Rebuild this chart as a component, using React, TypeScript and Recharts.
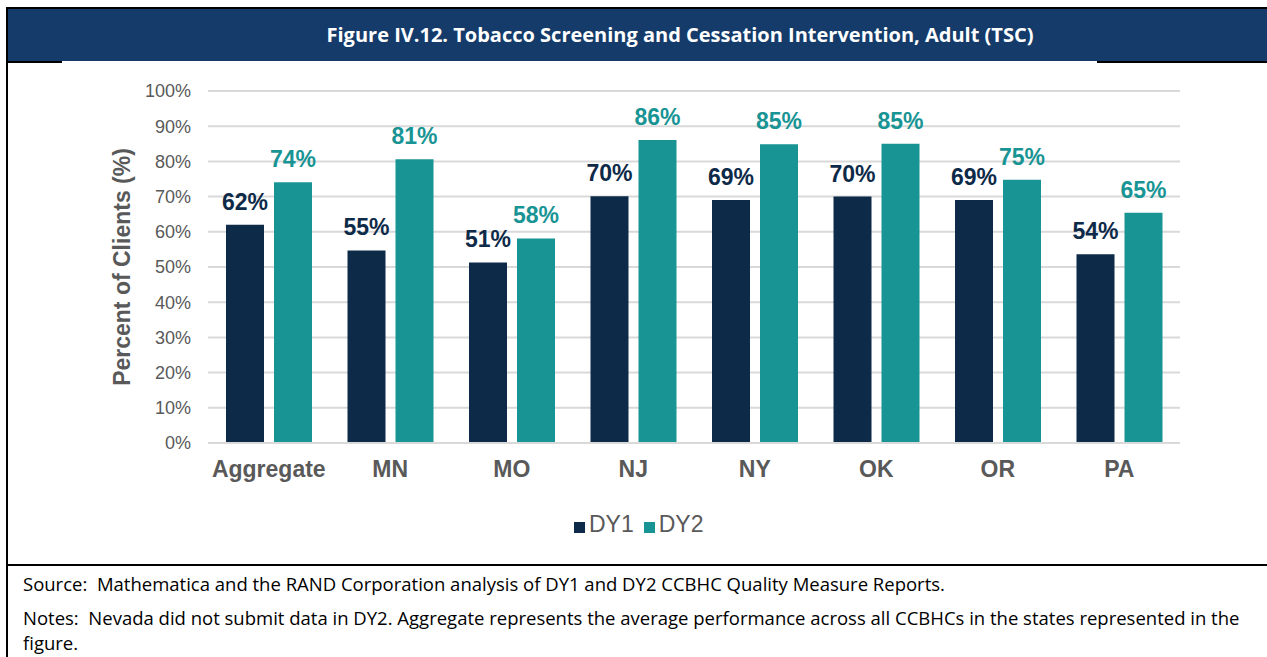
import { BarChart, Bar, XAxis, YAxis, CartesianGrid, Legend, LabelList } from "recharts";

const categories = ["Aggregate", "MN", "MO", "NJ", "NY", "OK", "OR", "PA"];
const dy1Values = [62, 54.7, 51.3, 70.1, 69, 70, 69, 53.6];
const dy2Values = [74.1, 80.6, 58.1, 86.1, 84.9, 85, 74.8, 65.4];
const yTicks = [0, 10, 20, 30, 40, 50, 60, 70, 80, 90, 100];

const data = categories.map((name, i) => ({ name, DY1: dy1Values[i], DY2: dy2Values[i] }));

const NAVY = "#0D2A48";
const TEAL = "#199494";
const GRAY = "#595959";
const ARIAL = "'Liberation Sans', Arial, sans-serif";
const BODY = "'Open Sans', 'Noto Sans', sans-serif";

const pct = (v: any) => `${Math.round(Number(v))}%`;

const noteStyle = {
  position: "absolute" as const,
  left: 23,
  whiteSpace: "nowrap" as const,
  fontFamily: BODY,
  fontSize: 18.5,
  lineHeight: "18px",
  color: "#000",
};

export default function App() {
  return (
    <div style={{ position: "absolute", left: 0, top: 0, width: 1267, height: 657, overflow: "hidden", background: "#fff" }}>
      {/* outer frame */}
      <div style={{ position: "absolute", left: 6, top: 7, width: 1400, height: 700, border: "2px solid #000" }} />
      {/* title bar */}
      <div style={{ position: "absolute", left: 8, top: 9, width: 1400, height: 52, background: "#143B69" }} />
      <div
        style={{
          position: "absolute", left: 0, top: 9, width: 1360, height: 52, lineHeight: "52px",
          textAlign: "center", color: "#fff", fontFamily: BODY, fontWeight: 700, fontSize: 20,
        }}
      >
        Figure IV.12. Tobacco Screening and Cessation Intervention, Adult (TSC)
      </div>
      <div style={{ position: "absolute", left: 7, top: 61, width: 55, height: 2, background: "#000" }} />
      <div style={{ position: "absolute", left: 1097, top: 61, width: 200, height: 2, background: "#000" }} />

      <div style={{ position: "absolute", left: 0, top: 62 }}>
        <BarChart
          width={1267}
          height={500}
          data={data}
          margin={{ top: 29, right: 87, left: 0, bottom: 32 }}
          barGap={10}
          barCategoryGap={18}
        >
          <CartesianGrid vertical={false} stroke="#D9D9D9" strokeWidth={2} />
          <XAxis
            dataKey="name"
            axisLine={{ stroke: "#D9D9D9", strokeWidth: 2 }}
            tickLine={false}
            tickMargin={12}
            height={60}
            tick={{ fontSize: 23, fontWeight: 700, fill: GRAY, fontFamily: ARIAL }}
          />
          <YAxis
            width={208}
            domain={[0, 100]}
            ticks={yTicks}
            tickFormatter={(v) => `${v}%`}
            axisLine={false}
            tickLine={false}
            tickMargin={11}
            tick={{ fontSize: 18, fill: GRAY, fontFamily: ARIAL }}
            label={{
              value: "Percent of Clients (%)",
              angle: -90,
              position: "center",
              dx: 18,
              style: { fontSize: 23, fontWeight: 700, fill: GRAY, fontFamily: ARIAL },
            }}
          />
          <Legend
            verticalAlign="bottom"
            iconType="square"
            iconSize={11}
            wrapperStyle={{ left: 574, bottom: 24, width: "auto", fontFamily: ARIAL }}
            formatter={(value) => <span style={{ color: GRAY, fontSize: 23 }}>{value}</span>}
          />
          <Bar dataKey="DY1" fill={NAVY} isAnimationActive={false}>
            <LabelList
              dataKey="DY1"
              position="top"
              offset={15}
              formatter={pct}
              style={{ fill: NAVY, fontSize: 23, fontWeight: 700, fontFamily: ARIAL }}
            />
          </Bar>
          <Bar dataKey="DY2" fill={TEAL} isAnimationActive={false}>
            <LabelList
              dataKey="DY2"
              position="top"
              offset={15}
              formatter={pct}
              style={{ fill: TEAL, fontSize: 23, fontWeight: 700, fontFamily: ARIAL }}
            />
          </Bar>
        </BarChart>
      </div>

      <div style={{ position: "absolute", left: 7, top: 564, width: 1300, height: 2, background: "#000" }} />
      <div style={{ ...noteStyle, top: 575 }}>
        Source:&nbsp; Mathematica and the RAND Corporation analysis of DY1 and DY2 CCBHC Quality Measure Reports.
      </div>
      <div style={{ ...noteStyle, top: 609 }}>
        Notes:&nbsp; Nevada did not submit data in DY2. Aggregate represents the average performance across all CCBHCs in the states represented in the
      </div>
      <div style={{ ...noteStyle, top: 634 }}>
        figure.
      </div>
    </div>
  );
}
